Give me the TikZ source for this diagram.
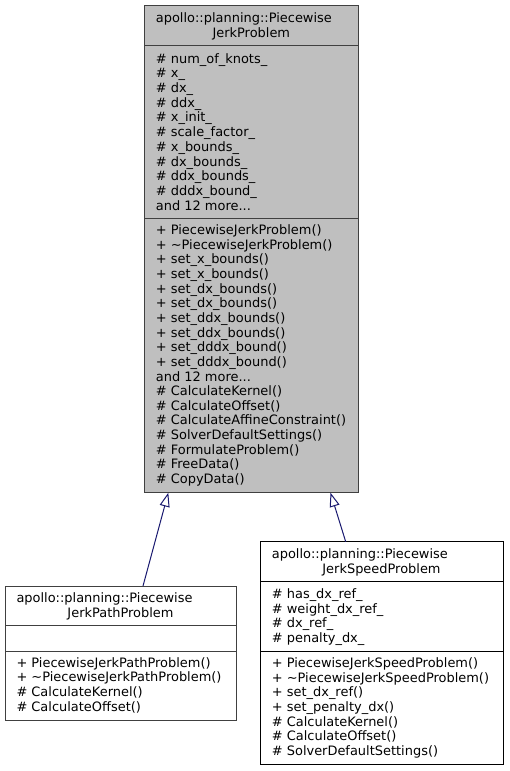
\documentclass[tikz,border=0pt]{standalone}
\usepackage{fontspec}
\setmainfont{DejaVu Sans}
\usetikzlibrary{arrows.meta}
\definecolor{boxgray}{HTML}{BFBFBF}
\definecolor{edgegray}{HTML}{404040}
\definecolor{inheritblue}{HTML}{191970}
\newcommand\moretwelve{and 12 more...}
\begin{document}
\begin{tikzpicture}[x=1pt,y=-1pt,
  font=\fontsize{12.95}{14.75}\selectfont,
  umlbox/.style={draw, line width=1pt, rectangle, inner sep=0pt, outer sep=0pt, anchor=north west},
  txt/.style={inner sep=0pt, anchor=base west},
  ctxt/.style={inner sep=0pt, anchor=base},
  sepline/.style={line width=1pt},
  inh/.style={draw=inheritblue, line width=1pt, -{Triangle[open, length=14pt, width=10pt]}}]
\fill[white] (0,0) rectangle (509,771);
\useasboundingbox (0,0) rectangle (509,771);

% ---- base class ----
\node[umlbox, fill=boxgray, draw=edgegray, minimum width=213.3pt, minimum height=487.7pt] (base) at (144.7,5) {};
\draw[sepline, edgegray] (144.7,45.7) -- (358,45.7);
\draw[sepline, edgegray] (144.7,218) -- (358,218);
\node[txt] (bt1) at (155.7,22.6) {apollo::planning::Piecewise};
\node[ctxt] (bt2) at (251.3,37.4) {JerkProblem};
\foreach \t [count=\i from 0] in {\# num\_of\_knots\_, \# x\_, \# dx\_, \# ddx\_, \# x\_init\_, \# scale\_factor\_, \# x\_bounds\_, \# dx\_bounds\_, \# ddx\_bounds\_, \# dddx\_bound\_, \moretwelve}
  \node[txt] (ba\i) at (155.7,63.0+\i*14.73) {\t};
\foreach \t [count=\i from 0] in {+ PiecewiseJerkProblem(), + \textasciitilde PiecewiseJerkProblem(), + set\_x\_bounds(), + set\_x\_bounds(), + set\_dx\_bounds(), + set\_dx\_bounds(), + set\_ddx\_bounds(), + set\_ddx\_bounds(), + set\_dddx\_bound(), + set\_dddx\_bound(), \moretwelve, \# CalculateKernel(), \# CalculateOffset(), \# CalculateAffineConstraint(), \# SolverDefaultSettings(), \# FormulateProblem(), \# FreeData(), \# CopyData()}
  \node[txt] (bm\i) at (155.7,234.5+\i*14.65) {\t};

% ---- path problem ----
\node[umlbox, fill=white, draw=edgegray, minimum width=231pt, minimum height=134.3pt] (path) at (5,586) {};
\draw[sepline, edgegray] (5,625.7) -- (236,625.7);
\draw[sepline, edgegray] (5,651.7) -- (236,651.7);
\node[txt] (pt1) at (16.3,602.7) {apollo::planning::Piecewise};
\node[ctxt] (pt2) at (120.5,617.5) {JerkPathProblem};
\foreach \t [count=\i from 0] in {+ PiecewiseJerkPathProblem(), + \textasciitilde PiecewiseJerkPathProblem(), \# CalculateKernel(), \# CalculateOffset()}
  \node[txt] (pm\i) at (16.3,667.3+\i*14.67) {\t};

% ---- speed problem ----
\node[umlbox, fill=white, draw=black, minimum width=243pt, minimum height=222.6pt] (speed) at (260,541.7) {};
\draw[sepline] (260,581.7) -- (503,581.7);
\draw[sepline] (260,651.7) -- (503,651.7);
\node[txt] (st1) at (271.7,558.5) {apollo::planning::Piecewise};
\node[ctxt] (st2) at (381.5,573.3) {JerkSpeedProblem};
\foreach \t [count=\i from 0] in {\# has\_dx\_ref\_, \# weight\_dx\_ref\_, \# dx\_ref\_, \# penalty\_dx\_}
  \node[txt] (sa\i) at (271.7,598.3+\i*14.73) {\t};
\foreach \t [count=\i from 0] in {+ PiecewiseJerkSpeedProblem(), + \textasciitilde PiecewiseJerkSpeedProblem(), + set\_dx\_ref(), + set\_penalty\_dx(), \# CalculateKernel(), \# CalculateOffset(), \# SolverDefaultSettings()}
  \node[txt] (sm\i) at (271.7,667.3+\i*14.7) {\t};

% ---- inheritance ----
\coordinate (pathtop) at (143,586);
\coordinate (basel) at (168.3,492.7);
\coordinate (speedtop) at (345.7,541.7);
\coordinate (baser) at (330.5,492.7);
\draw[inh] (pathtop) -- (basel);
\draw[inh] (speedtop) -- (baser);
\end{tikzpicture}
\end{document}
